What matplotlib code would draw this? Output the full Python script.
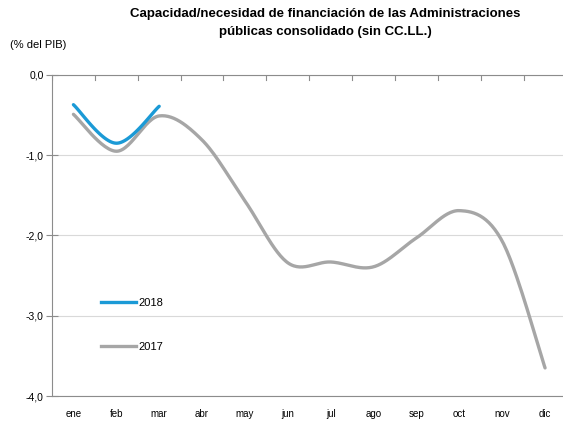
import numpy as np
import matplotlib
matplotlib.use("Agg")
import matplotlib.pyplot as plt
from matplotlib.lines import Line2D

# Data (% del PIB)
months = ["ene", "feb", "mar", "abr", "may", "jun", "jul", "ago", "sep", "oct", "nov", "dic"]
vals_2017 = [-0.49, -0.95, -0.51, -0.81, -1.57, -2.34, -2.33, -2.39, -2.03, -1.69, -2.07, -3.65]
vals_2018 = [-0.37, -0.85, -0.39]

blue = "#1B9AD6"
gray = "#A6A6A6"
axis_col = "#8C8C8C"


def smooth(y, n=30):
    # Excel-like smoothed line: Catmull-Rom style bezier through the points
    y = np.asarray(y, dtype=float)
    x = np.arange(len(y), dtype=float)
    pts = np.column_stack([x, y])
    out = []
    for i in range(len(pts) - 1):
        p0 = pts[i - 1] if i > 0 else pts[i]
        p1 = pts[i]
        p2 = pts[i + 1]
        p3 = pts[i + 2] if i + 2 < len(pts) else pts[i + 1]
        c1 = p1 + (p2 - p0) / 6.0
        c2 = p2 - (p3 - p1) / 6.0
        t = np.linspace(0, 1, n)[:, None]
        seg = (1 - t) ** 3 * p1 + 3 * (1 - t) ** 2 * t * c1 + 3 * (1 - t) * t ** 2 * c2 + t ** 3 * p2
        out.append(seg if i == 0 else seg[1:])
    seg = np.vstack(out)
    return seg[:, 0], seg[:, 1]


plt.rcParams['font.family'] = ['Liberation Sans', 'DejaVu Sans']

fig = plt.figure(figsize=(5.63, 4.23), dpi=100)
ax = fig.add_axes([52 / 563, 1 - 396 / 423, 514.5 / 563, (396 - 75) / 423])

x17, y17 = smooth(vals_2017)
x18, y18 = smooth(vals_2018)
ax.plot(x17, y17, color=gray, lw=2.4, solid_capstyle='round', zorder=3)
ax.plot(x18, y18, color=blue, lw=2.4, solid_capstyle='round', zorder=4)

ax.set_xlim(-0.5, len(months) - 0.5)
ax.set_ylim(-4, 0)
ax.set_yticks([0, -1, -2, -3, -4])
ax.set_yticklabels(["0,0", "-1,0", "-2,0", "-3,0", "-4,0"], fontsize=7.5)
ax.yaxis.grid(True, color="#D9D9D9", lw=0.8)
ax.set_axisbelow(True)

# category axis crosses at 0, labels at the bottom
ax.set_xticks(np.arange(len(months)))
ax.set_xticklabels(months, fontsize=7)
ax.tick_params(axis='x', length=0, pad=9)
ax.tick_params(axis='y', length=8, direction='inout', color=axis_col, width=0.8, pad=2)
for b in np.arange(-0.5, len(months), 1.0):
    ax.plot([b, b], [0, -0.06], color=axis_col, lw=0.8, zorder=2)

ax.spines['right'].set_visible(False)
for s in ['top', 'left', 'bottom']:
    ax.spines[s].set_color(axis_col)
    ax.spines[s].set_linewidth(0.8)

handles = [Line2D([0], [0], color=blue, lw=2.4), Line2D([0], [0], color=gray, lw=2.4)]
ax.legend(handles, ["2018", "2017"], loc='lower left', bbox_to_anchor=(0.075, 0.106),
          frameon=False, fontsize=8, handlelength=3.2, labelspacing=3.05, handletextpad=0.2)

fig.text(325 / 563, 1 - 14 / 423, "Capacidad/necesidad de financiación de las Administraciones",
         ha='center', va='center', fontsize=9.5, fontweight='bold')
fig.text(325 / 563, 1 - 32 / 423, "públicas consolidado (sin CC.LL.)",
         ha='center', va='center', fontsize=9.5, fontweight='bold')
fig.text(10 / 563, 1 - 45 / 423, "(% del PIB)", ha='left', va='center', fontsize=8)

fig.savefig("out.png", dpi=100)
